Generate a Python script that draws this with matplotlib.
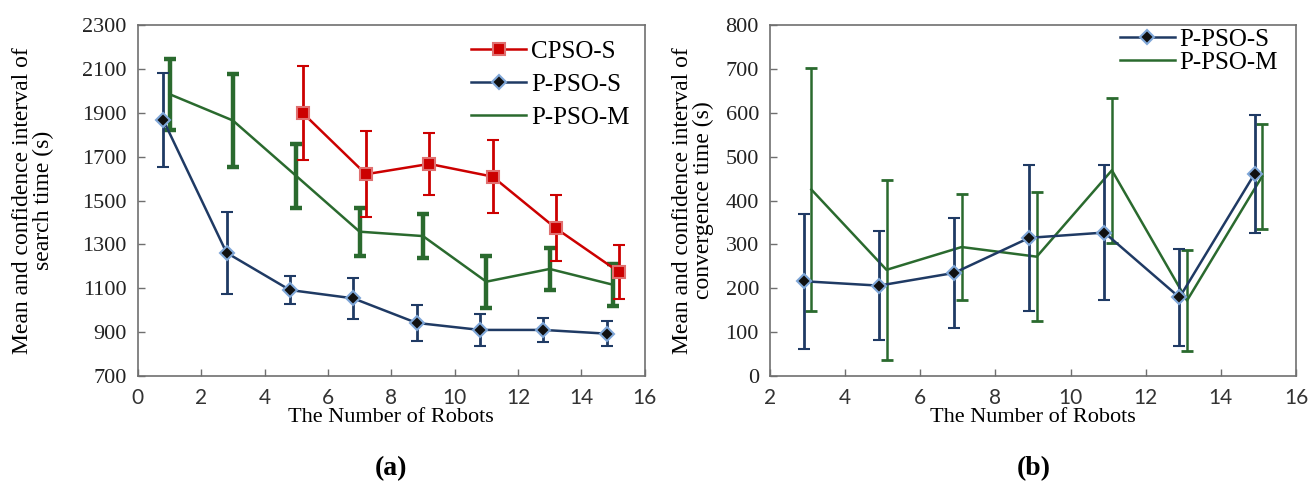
import matplotlib
matplotlib.use("Agg")
import matplotlib.pyplot as plt
import numpy as np

# (a) search time
cpso_x = [5.2, 7.2, 9.2, 11.2, 13.2, 15.2]
cpso_mean = [1900, 1620, 1667, 1609, 1373, 1173]
cpso_err = [215, 195, 142, 167, 150, 122]

ppso_s_x = [0.8, 2.8, 4.8, 6.8, 8.8, 10.8, 12.8, 14.8]
ppso_s_mean = [1868, 1262, 1092, 1054, 942, 910, 910, 893]
ppso_s_err = [215, 188, 63, 95, 83, 72, 54, 56]

ppso_m_x = [1.0, 3.0, 5.0, 7.0, 9.0, 11.0, 13.0, 15.0]
ppso_m_mean = [1985, 1865, 1612, 1358, 1338, 1130, 1188, 1116]
ppso_m_err = [162, 212, 147, 109, 101, 119, 94, 96]

# (b) convergence time
conv_s_x = [2.9, 4.9, 6.9, 8.9, 10.9, 12.9, 14.9]
conv_s_mean = [216, 206, 235, 315, 327, 179, 461]
conv_s_err = [154, 125, 125, 167, 154, 110, 135]

conv_m_x = [3.1, 5.1, 7.1, 9.1, 11.1, 13.1, 15.1]
conv_m_mean = [425, 242, 294, 272, 469, 172, 455]
conv_m_err = [277, 205, 121, 147, 165, 115, 120]

RED = "#CC0000"
NAVY = "#1F3A64"
GREEN = "#2A6A2E"
SERIF = "Liberation Serif"
SANS = "Lato"

fig = plt.figure(figsize=(13.13, 4.97), dpi=100)
ax1 = fig.add_axes([0.105, 0.2435, 0.386, 0.706])
ax2 = fig.add_axes([0.5865, 0.2435, 0.4005, 0.706])


def style_axes(ax):
    for sp in ax.spines.values():
        sp.set_color("#6f6f6f")
        sp.set_linewidth(1.2)
    ax.tick_params(direction="in", length=5, color="#6f6f6f", width=1)
    ax.tick_params(axis="y", labelsize=16, pad=8)
    ax.tick_params(axis="x", labelsize=15, pad=9)
    for lab in ax.get_yticklabels():
        lab.set_fontfamily(SERIF)
        lab.set_color("#222222")
    for lab in ax.get_xticklabels():
        lab.set_fontfamily(SANS)
        lab.set_color("#333333")
    ax.set_xlabel("The Number of Robots", fontsize=16, family=SERIF, labelpad=0)


# ---- (a)
ax1.errorbar(ppso_m_x, ppso_m_mean, yerr=ppso_m_err, color=GREEN, lw=1.8,
             elinewidth=3.2, capsize=4, capthick=3.2, label="P-PSO-M", zorder=2)
ax1.errorbar(ppso_s_x, ppso_s_mean, yerr=ppso_s_err, color=NAVY, lw=1.8,
             elinewidth=2, capsize=4, capthick=2, marker="D", ms=7,
             mfc="#111111", mec="#7FA7D8", mew=1.5, label="P-PSO-S", zorder=3)
ax1.errorbar(cpso_x, cpso_mean, yerr=cpso_err, color=RED, lw=1.8,
             elinewidth=2, capsize=4, capthick=2, marker="s", ms=8,
             mfc=RED, mec="#E07070", mew=1.5, label="CPSO-S", zorder=4)
ax1.set_xlim(0, 16)
ax1.set_ylim(700, 2300)
ax1.set_xticks(np.arange(0, 17, 2))
ax1.set_yticks(np.arange(700, 2301, 200))
style_axes(ax1)
ax1.set_ylabel("Mean and confidence interval of\nsearch time (s)",
               fontsize=17, family=SERIF, linespacing=1.0, labelpad=20)
h, l = ax1.get_legend_handles_labels()
order = [l.index("CPSO-S"), l.index("P-PSO-S"), l.index("P-PSO-M")]
ax1.legend([h[i][0] for i in order], [l[i] for i in order], loc="upper right",
           frameon=False, prop={"family": SERIF, "size": 18},
           handlelength=2.2, handletextpad=0.2, labelspacing=0.42,
           borderaxespad=0.2)

# ---- (b)
ax2.errorbar(conv_m_x, conv_m_mean, yerr=conv_m_err, color=GREEN, lw=1.8,
             elinewidth=1.8, capsize=4, capthick=2, label="P-PSO-M", zorder=2)
ax2.errorbar(conv_s_x, conv_s_mean, yerr=conv_s_err, color=NAVY, lw=1.8,
             elinewidth=2, capsize=4, capthick=2, marker="D", ms=7,
             mfc="#111111", mec="#7FA7D8", mew=1.5, label="P-PSO-S", zorder=3)
ax2.set_xlim(2, 16)
ax2.set_ylim(0, 800)
ax2.set_xticks(np.arange(2, 17, 2))
ax2.set_yticks(np.arange(0, 801, 100))
style_axes(ax2)
ax2.set_ylabel("Mean and confidence interval of\nconvergence time (s)",
               fontsize=17, family=SERIF, linespacing=1.0, labelpad=8)
h, l = ax2.get_legend_handles_labels()
order = [l.index("P-PSO-S"), l.index("P-PSO-M")]
ax2.legend([h[i][0] for i in order], [l[i] for i in order], loc="upper right",
           bbox_to_anchor=(0.985, 1.02), frameon=False,
           prop={"family": SERIF, "size": 18},
           handlelength=2.2, handletextpad=0.2, labelspacing=0.02,
           borderaxespad=0.0)

fig.text(0.298, 0.045, "(a)", ha="center", fontsize=20, fontweight="bold", family=SERIF)
fig.text(0.787, 0.045, "(b)", ha="center", fontsize=20, fontweight="bold", family=SERIF)

fig.savefig("out.png", dpi=100)
